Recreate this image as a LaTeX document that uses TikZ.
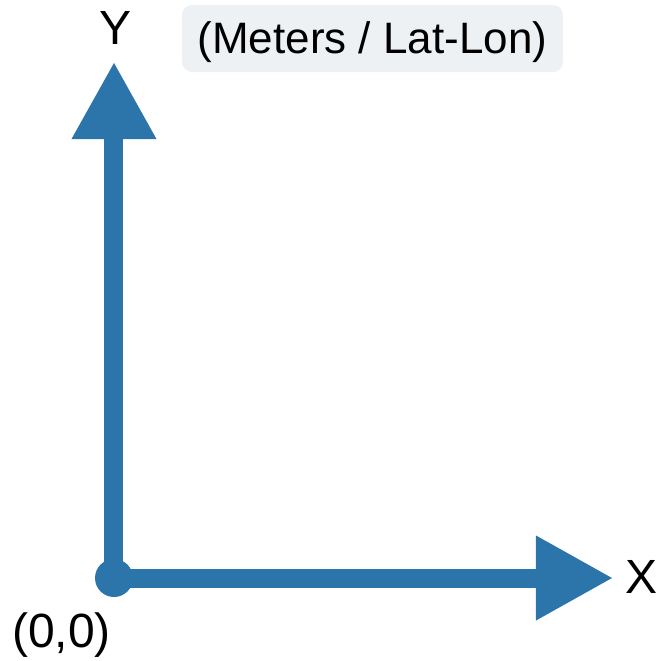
\documentclass[tikz,border=0pt]{standalone}
\usepackage{fontspec}
\setmainfont{Liberation Sans}
\usetikzlibrary{arrows.meta}
\definecolor{axc}{HTML}{2B75AA}
\definecolor{bg}{HTML}{EEF1F4}
\tikzset{
  axis/.style={line width=9.5pt,draw=axc,-{Triangle[length=38pt,width=42.5pt,line width=0pt]}},
  lbl/.style={font=\fontsize{24}{28}\selectfont,inner sep=0pt},
  unitbox/.style={fill=bg,rounded corners=5pt,minimum width=190.5pt,minimum height=33.5pt,inner sep=0pt,
    text height=19.5pt,text depth=4.7pt,font=\fontsize{22}{26}\selectfont},
}
\begin{document}
\begin{tikzpicture}[x=0.5pt,y=-0.5pt]
  \useasboundingbox (0,0) rectangle (660,661);
  \coordinate (o) at (114,578);
  \coordinate (ytip) at (114,63);
  \coordinate (xtip) at (612,578);
  \draw[axis] (o) -- (ytip);
  \draw[axis] (o) -- (xtip);
  \fill[axc] (o) circle[radius=9.5pt];
  \node[lbl] (ylbl) at (116,27.5) {Y};
  \node[lbl] (xlbl) at (641.5,577) {X};
  \node[lbl] (olbl) at (61.5,635.5) {(0,0)};
  \node[unitbox] (units) at (372.5,38.5) {(Meters / Lat-Lon)};
\end{tikzpicture}
\end{document}
